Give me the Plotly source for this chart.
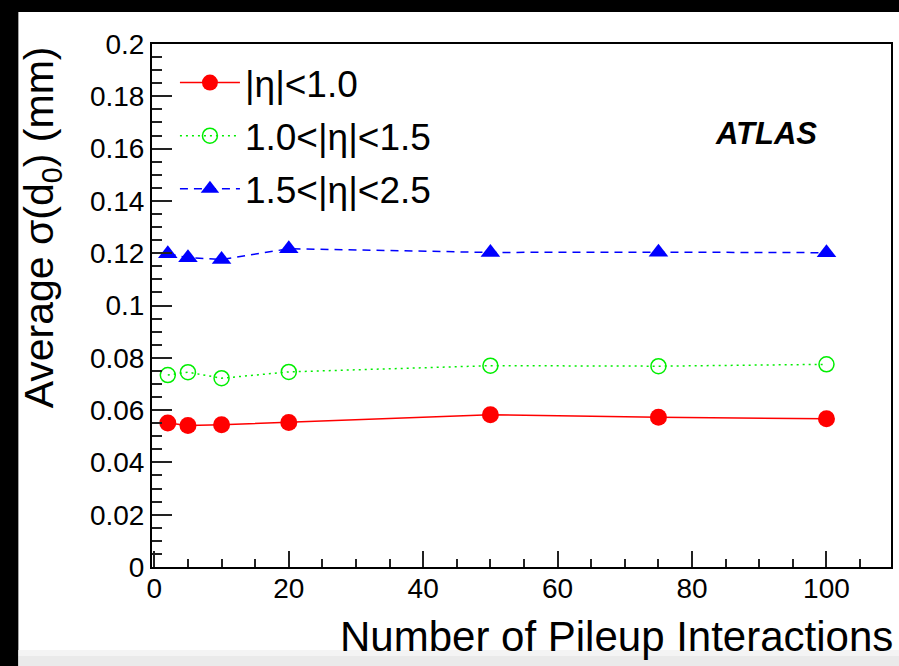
import plotly.graph_objects as go

# ---- data ----
pileup = [2, 5, 10, 20, 50, 75, 100]
eta_lt_10 = [0.0551, 0.0541, 0.0544, 0.0553, 0.0582, 0.0573, 0.0567]
eta_10_15 = [0.0734, 0.0745, 0.0722, 0.0746, 0.0770, 0.0768, 0.0775]
eta_15_25 = [0.1198, 0.1183, 0.1176, 0.1217, 0.1203, 0.1204, 0.1202]
series_names = ["|η|<1.0", "1.0<|η|<1.5", "1.5<|η|<2.5"]

FONT = "Liberation Sans, Arial, Helvetica, sans-serif"

fig = go.Figure()
fig.add_trace(go.Scatter(
    x=pileup, y=eta_lt_10, name=series_names[0], mode="lines+markers",
    legendgroup="a",
    line=dict(color="#ff0000", width=1.5),
    marker=dict(symbol="circle", size=17, color="#ff0000", line=dict(width=0))))
fig.add_trace(go.Scatter(
    x=pileup, y=eta_10_15, name=series_names[1], mode="lines+markers",
    legendgroup="b",
    line=dict(color="#00ee00", width=1.5, dash="2px,4px"),
    marker=dict(symbol="circle-open", size=15, color="#00ee00", line=dict(width=1.5, color="#00ee00"))))
fig.add_trace(go.Scatter(
    x=pileup, y=eta_15_25, name=series_names[2], mode="lines+markers",
    legendgroup="c",
    line=dict(color="#0000ff", width=1.5, dash="8px,6px"),
    marker=dict(symbol="triangle-up", size=17, color="#0000ff", line=dict(width=0))))

L, R, T, B = 152, 6, 44, 99
W = 899 - L - R
H = 666 - T - B

def px_x(px):
    return (px - L) / W

def px_y(py):
    return (666 - B - py) / H

shapes = [
    # black top band
    dict(type="rect", xref="paper", yref="paper", x0=px_x(-5), x1=px_x(905), y0=px_y(12), y1=px_y(-5),
         fillcolor="black", line=dict(width=0), layer="below"),
    # black left band
    dict(type="rect", xref="paper", yref="paper", x0=px_x(-5), x1=px_x(18), y0=px_y(671), y1=px_y(-5),
         fillcolor="black", line=dict(width=0), layer="below"),
    # light gray bottom strip
    dict(type="rect", xref="paper", yref="paper", x0=px_x(18), x1=px_x(905), y0=px_y(656), y1=px_y(650),
         fillcolor="#f4f4f4", line=dict(width=0), layer="below"),
    dict(type="rect", xref="paper", yref="paper", x0=px_x(18), x1=px_x(905), y0=px_y(671), y1=px_y(656),
         fillcolor="#eaeaea", line=dict(width=0), layer="below"),
]

annotations = [
    dict(text="Average σ(d<sub>0</sub>) (mm)", textangle=-90, xref="paper", yref="paper",
         x=px_x(42), y=px_y(44), xanchor="center", yanchor="top", showarrow=False,
         font=dict(family=FONT, size=41, color="black")),
    dict(text="Number of Pileup Interactions", xref="paper", yref="paper",
         x=px_x(897), y=px_y(636), xanchor="right", yanchor="middle", showarrow=False,
         font=dict(family=FONT, size=42, color="black")),
    dict(text="<b><i>ATLAS</i></b>", xref="paper", yref="paper",
         x=px_x(768), y=px_y(133), xanchor="center", yanchor="middle", showarrow=False,
         font=dict(family=FONT, size=31, color="black")),
]

fig.update_layout(
    width=899, height=666,
    margin=dict(l=L, r=R, t=T, b=B),
    paper_bgcolor="white", plot_bgcolor="white",
    font=dict(family=FONT, color="black"),
    shapes=shapes, annotations=annotations,
    legend=dict(x=px_x(175), y=px_y(52), xanchor="left", yanchor="top",
                bgcolor="rgba(0,0,0,0)", borderwidth=0,
                font=dict(family=FONT, size=37, color="black"),
                tracegroupgap=2, itemwidth=60),
    showlegend=True,
)

fig.update_xaxes(
    range=[-0.35, 109.6], showgrid=False, zeroline=False,
    showline=True, linecolor="black", linewidth=2, mirror=True,
    ticks="inside", ticklen=16, tickwidth=1.5, tickcolor="#222",
    tick0=0, dtick=20, ticklabelstandoff=-5,
    minor=dict(ticks="inside", ticklen=8, tickwidth=1.5, tickcolor="#222", dtick=5, showgrid=False),
    tickfont=dict(family=FONT, size=28, color="black"),
)
fig.update_yaxes(
    range=[0, 0.2], showgrid=False, zeroline=False,
    showline=True, linecolor="black", linewidth=2, mirror=True,
    ticks="inside", ticklen=20, tickwidth=1.5, tickcolor="#222",
    tick0=0, dtick=0.02,
    minor=dict(ticks="inside", ticklen=10, tickwidth=1.5, tickcolor="#222", dtick=0.005, showgrid=False),
    tickfont=dict(family=FONT, size=28, color="black"),
)

fig.write_html("out.html")
